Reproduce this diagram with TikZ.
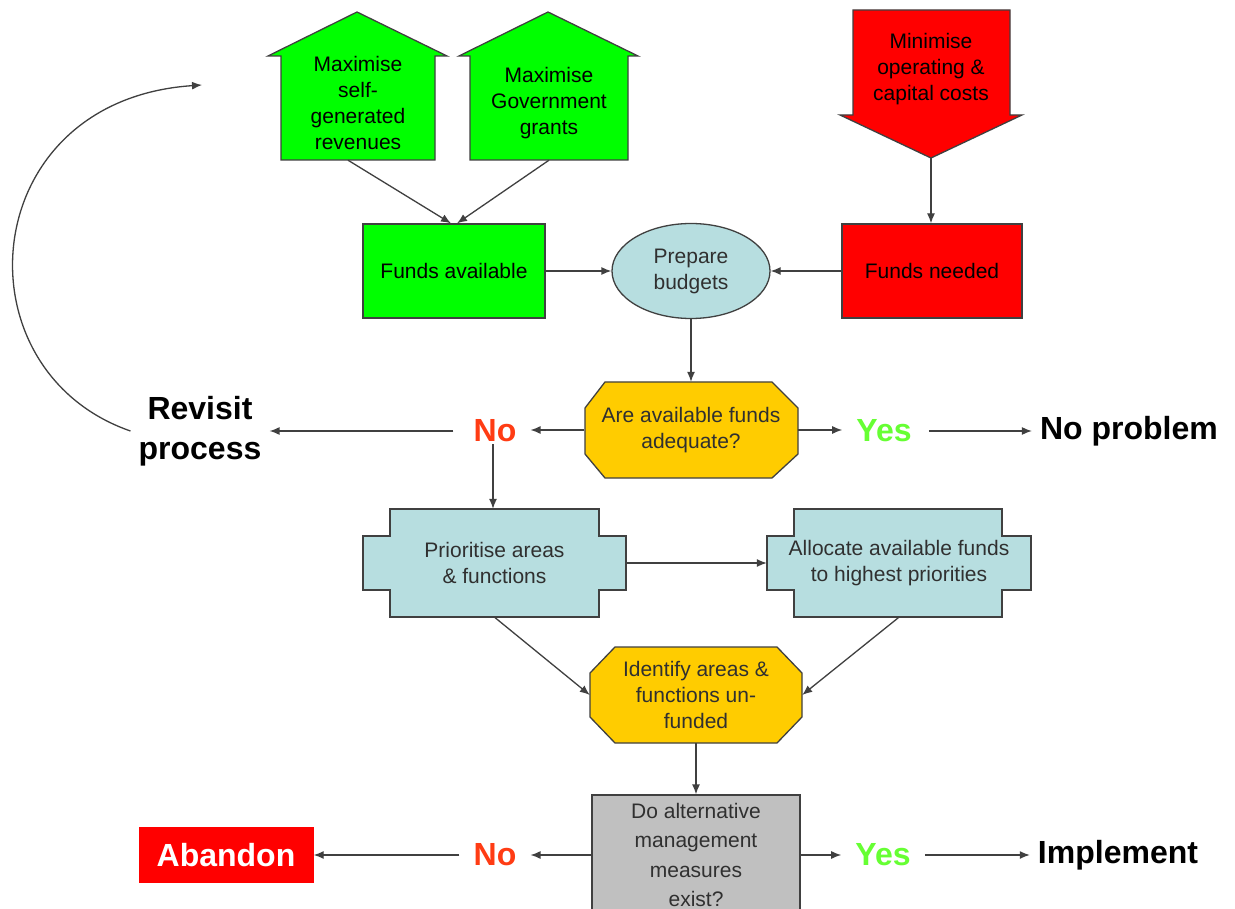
\documentclass[tikz,border=0pt]{standalone}
\usepackage{fontspec}
\setmainfont{Liberation Sans}
\usetikzlibrary{shapes.geometric,arrows.meta}
\definecolor{cgreen}{HTML}{00FF00}
\definecolor{cred}{HTML}{FF0000}
\definecolor{cblue}{HTML}{B7DEE0}
\definecolor{cgold}{HTML}{FFCC00}
\definecolor{cgray}{HTML}{C0C0C0}
\definecolor{cline}{HTML}{404040}
\definecolor{cno}{HTML}{FF3C14}
\definecolor{cyes}{HTML}{66FF33}
\definecolor{ctext}{HTML}{303030}
\begin{document}
\begin{tikzpicture}[x=1pt,y=-1pt,
  outline/.style={draw=cline,line width=1.3pt,line join=miter},
  txt/.style={font=\fontsize{21}{26}\selectfont,text=ctext,align=center,inner sep=0pt},
  box/.style={txt,outline,rectangle},
  big/.style={font=\fontsize{32}{40}\selectfont\bfseries,align=center,inner ysep=2pt},
  lab/.style={big,inner xsep=14pt},
  endlab/.style={big,inner xsep=8pt},
  conn/.style={draw=cline,line width=1.3pt,-{Latex[length=10pt,width=8pt]}},
  plain/.style={draw=cline,line width=1.3pt}]
\useasboundingbox (0,0) rectangle (1235,909);
\fill[white] (0,0) rectangle (1235,909);

% up arrows
\draw[outline,fill=cgreen] (281,160) -- (281,56) -- (268,56) -- (357,12) -- (447,56) -- (435,56) -- (435,160) -- cycle;
\node[txt,minimum width=154pt,minimum height=114pt,text=black] (up1) at (358,103) {Maximise\\self-\\generated\\revenues};
\draw[outline,fill=cgreen] (470,160) -- (470,56) -- (459,56) -- (548,12) -- (638,56) -- (628,56) -- (628,160) -- cycle;
\node[txt,minimum width=158pt,minimum height=114pt,text=black] (up2) at (549,103) {Maximise\\Government\\grants};

% down arrow
\draw[outline,fill=cred] (853,10) -- (1010,10) -- (1010,115) -- (1022,115) -- (931,158) -- (840,115) -- (853,115) -- cycle;
\node[txt,minimum width=157pt,minimum height=178pt,text=black] (mc) at (931,69) {Minimise\\operating \&\\capital costs};

% row 2
\node[box,fill=cgreen,minimum width=182pt,minimum height=94pt,text=black] (fa) at (454,271) {Funds available};
\node[box,fill=cred,minimum width=180pt,minimum height=94pt,text=black] (fn) at (932,271) {Funds needed};
\node[txt,outline,ellipse,fill=cblue,minimum width=158pt,minimum height=95pt] (pb) at (691,271) {Prepare\\budgets};

% question 1
\draw[outline,fill=cgold] (605,382) -- (772,382) -- (798,408) -- (798,454) -- (772,478) -- (605,478) -- (585,454) -- (585,408) -- cycle;
\node[txt,minimum width=213pt,minimum height=96pt] (q1) at (691,430) {Are available funds\\adequate?};

\node[lab,text=cno] (no1) at (495,431) {No};
\node[lab,text=cyes] (yes1) at (884,431) {Yes};
\node[endlab] (rev) at (200,431) {Revisit\\process};
\node[endlab] (np) at (1129,431) {No problem};
\coordinate (loopend) at (202,85);

% cross shapes
\draw[outline,fill=cblue] (390,509) -- (599,509) -- (599,536) -- (626,536) -- (626,590) -- (599,590) -- (599,617) -- (390,617) -- (390,590) -- (363,590) -- (363,536) -- (390,536) -- cycle;
\node[txt,minimum width=263pt,minimum height=108pt] (pr) at (494.5,563) {Prioritise areas\\\& functions};
\draw[outline,fill=cblue] (794,509) -- (1002,509) -- (1002,536) -- (1031,536) -- (1031,590) -- (1002,590) -- (1002,617) -- (794,617) -- (794,590) -- (767,590) -- (767,536) -- (794,536) -- cycle;
\node[txt,minimum width=264pt,minimum height=108pt] (al) at (899,563) {Allocate available funds\\to highest priorities};

% identify
\draw[outline,fill=cgold] (615,647) -- (777,647) -- (802,673) -- (802,717) -- (777,743) -- (615,743) -- (590,717) -- (590,673) -- cycle;
\node[txt,minimum width=212pt,minimum height=96pt] (id) at (696,695) {Identify areas \&\\functions un-\\funded};

% grey box
\node[box,fill=cgray,minimum width=208pt,minimum height=120pt,font=\fontsize{21}{29.5}\selectfont] (gb) at (696,855) {Do alternative\\management\\measures\\exist?};

\node[lab,text=cno] (no2) at (495,855) {No};
\node[lab,text=cyes] (yes2) at (883,855) {Yes};
\node[endlab] (imp) at (1118,855) {Implement};
\node[big,fill=cred,text=white,minimum width=175pt,minimum height=56pt,inner sep=0pt] (ab) at (226,855) {Abandon};

% connectors
\draw[conn] ([xshift=-10pt]up1.south) -- ([xshift=-3pt]fa.north);
\draw[conn] (up2.south) -- ([xshift=3pt]fa.north);
\draw[conn] (mc.south) -- (mc.south |- fn.north);
\draw[conn] (fa.east) -- (pb.west);
\draw[conn] (fn.west) -- (pb.east);
\draw[conn] (pb.south) -- (q1.north);
\draw[conn] (q1.west) -- (q1.west -| no1.east);
\draw[conn] ([xshift=-6pt]no1.west) -- (rev.east);
\draw[conn] (q1.east) -- (q1.east -| yes1.west);
\draw[conn] ([xshift=3pt]yes1.east) -- (np.west);
\draw[conn] (rev.west) .. controls (-45,370) and (-25,100) .. (loopend);
\draw[conn] ([xshift=-2pt]no1.south) -- ([xshift=-2pt]no1.south |- pr.north);
\draw[conn] (pr.east) -- (al.west);
\draw[conn] (pr.south) -- (id.west);
\draw[conn] (al.south) -- (id.east);
\draw[conn] (id.south) -- (id.south |- gb.north);
\draw[conn] (gb.west) -- (no2.east);
\draw[conn] (no2.west) -- (ab.east);
\draw[conn] (gb.east) -- (yes2.west);
\draw[conn] (yes2.east) -- (imp.west);
\end{tikzpicture}
\end{document}
